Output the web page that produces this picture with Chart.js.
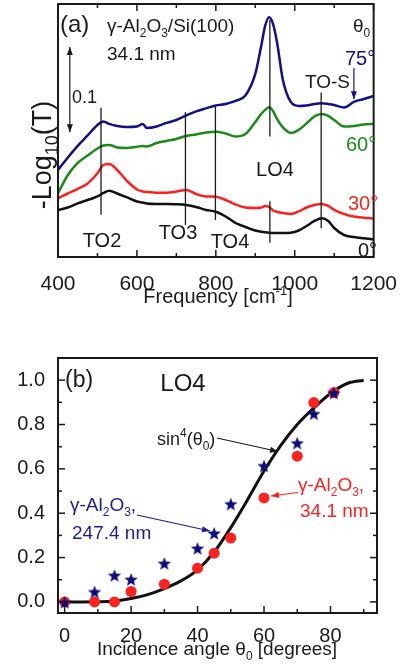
<!DOCTYPE html>
<html>
<head>
<meta charset="utf-8">
<script src="https://cdn.jsdelivr.net/npm/chart.js@4.4.1/dist/chart.umd.min.js"></script>
<style>
  html, body { margin: 0; padding: 0; background: #fff; }
  #wrap { position: relative; width: 404px; height: 666px; }
  canvas { position: absolute; left: 0; }
  #ca { top: 0; }
  #cb { top: 330px; }
</style>
</head>
<body>
<div id="wrap">
  <canvas id="ca" width="404" height="315"></canvas>
  <canvas id="cb" width="404" height="336"></canvas>
</div>
<script>
const FONT = '"Liberation Sans", Arial, sans-serif';
const INK = '#1a1a1a';

// ---- panel (a): spectra, -log10(T) vs frequency [cm-1]
const freq = [400, 425, 450, 475, 500, 515, 530, 550, 575, 600, 615, 625, 650, 675, 700, 725, 750, 775, 800, 825,
              850, 875, 900, 915, 925, 935, 945, 955, 970, 990, 1010, 1030, 1050, 1068, 1085, 1100, 1125, 1150, 1175, 1200];
const abs0 = [0.0558, 0.0587, 0.0635, 0.0676, 0.0718, 0.0759, 0.0786, 0.0753, 0.0706, 0.0658, 0.0646, 0.0635, 0.0629, 0.0629,
              0.0626, 0.0617, 0.0593, 0.0558, 0.0537, 0.0480, 0.0403, 0.0356, 0.0314, 0.0300, 0.0293, 0.0288, 0.0285, 0.0285,
              0.0285, 0.0288, 0.0314, 0.0368, 0.0427, 0.0459, 0.0427, 0.0344, 0.0261, 0.0237, 0.0222, 0.0208];
const abs30 = [0.0696, 0.0753, 0.0807, 0.0872, 0.0993, 0.1091, 0.1103, 0.1032, 0.0902, 0.0801, 0.0777, 0.0771, 0.0763, 0.0763,
               0.0777, 0.0795, 0.0747, 0.0718, 0.0715, 0.0676, 0.0623, 0.0587, 0.0581, 0.0587, 0.0605, 0.0593, 0.0552, 0.0537,
               0.0522, 0.0510, 0.0540, 0.0587, 0.0617, 0.0629, 0.0605, 0.0558, 0.0510, 0.0480, 0.0466, 0.0457];
const abs60 = [0.0756, 0.0973, 0.1115, 0.1204, 0.1287, 0.1323, 0.1329, 0.1299, 0.1293, 0.1308, 0.1317, 0.1311, 0.1352, 0.1376,
               0.1400, 0.1435, 0.1453, 0.1477, 0.1486, 0.1465, 0.1429, 0.1459, 0.1601, 0.1696, 0.1744, 0.1776, 0.1732, 0.1637,
               0.1536, 0.1471, 0.1507, 0.1584, 0.1667, 0.1696, 0.1673, 0.1625, 0.1548, 0.1554, 0.1572, 0.1578];
const abs75 = [0.1032, 0.1180, 0.1317, 0.1441, 0.1566, 0.1607, 0.1578, 0.1554, 0.1542, 0.1548, 0.1578, 0.1530, 0.1548, 0.1590,
               0.1625, 0.1679, 0.1726, 0.1762, 0.1797, 0.1815, 0.1851, 0.1916, 0.2171, 0.2503, 0.2740, 0.2843, 0.2764, 0.2550,
               0.2100, 0.1839, 0.1791, 0.1797, 0.1815, 0.1823, 0.1815, 0.1803, 0.1773, 0.1839, 0.1874, 0.1910];
// vertical mode markers TO2, TO3, TO4, LO4 (upper), LO4 (lower), TO-S
const markerFreq = [509, 723, 799, 937, 937, 1067];
const markerTop = [0.177, 0.172, 0.178, 0.281, 0.066, 0.195];
const markerBottom = [0.050, 0.038, 0.044, 0.143, 0.017, 0.034];
const freqTicks = [400, 600, 800, 1000, 1200];

// ---- panel (b): LO4 intensity vs incidence angle
const angle = [0, 9, 15, 20, 30, 40, 45, 50, 60, 70, 75, 81];
const lo4Thick = [0, 0.047, 0.121, 0.103, 0.175, 0.243, 0.311, 0.443, 0.615, 0.718, 0.85, 0.944];  // 247.4 nm, stars
const lo4Thin = [0, 0, 0, 0.047, 0.08, 0.152, 0.22, 0.288, 0.469, 0.657, 0.899, 0.944];           // 34.1 nm, circles
const fitAngle = [0, 10, 15, 20, 25, 30, 35, 40, 45, 50, 55, 60, 65, 70, 75, 80, 85, 90];
const fitVal = [0, 0.001, 0.004, 0.015, 0.033, 0.06, 0.095, 0.145, 0.225, 0.335, 0.46, 0.59, 0.705, 0.8, 0.875, 0.94, 0.985, 1.0];
const angleTicks = [0, 20, 40, 60, 80];
const ratioTicks = [0, 0.2, 0.4, 0.6, 0.8, 1.0];

const C_BLUE = '#10108c';
const C_GREEN = '#1b8a1b';
const C_RED = '#ff1f1f';
const C_STAR = '#0c0c7a';

// text with sub/superscripts; y is the baseline
function rich(ctx, x, y, parts, size, color, align) {
  ctx.save();
  ctx.fillStyle = color;
  ctx.textBaseline = 'alphabetic';
  const fs = k => (k === 'n' ? size : Math.round(size * 0.65));
  let w = 0;
  parts.forEach(([t, k]) => { ctx.font = fs(k) + 'px ' + FONT; w += ctx.measureText(t).width; });
  let cx = align === 'center' ? x - w / 2 : x;
  parts.forEach(([t, k]) => {
    ctx.font = fs(k) + 'px ' + FONT;
    const dy = k === 'sub' ? size * 0.25 : k === 'sup' ? -size * 0.42 : 0;
    ctx.fillText(t, cx, y + dy);
    cx += ctx.measureText(t).width;
  });
  ctx.restore();
}

function arrow(ctx, x1, y1, x2, y2, color, both) {
  ctx.save();
  ctx.strokeStyle = color; ctx.fillStyle = color; ctx.lineWidth = 1.2;
  ctx.beginPath(); ctx.moveTo(x1, y1); ctx.lineTo(x2, y2); ctx.stroke();
  const head = (xa, ya, xb, yb) => {
    const a = Math.atan2(yb - ya, xb - xa);
    ctx.beginPath();
    ctx.moveTo(xb, yb);
    ctx.lineTo(xb - 8 * Math.cos(a) + 3 * Math.sin(a), yb - 8 * Math.sin(a) - 3 * Math.cos(a));
    ctx.lineTo(xb - 8 * Math.cos(a) - 3 * Math.sin(a), yb - 8 * Math.sin(a) + 3 * Math.cos(a));
    ctx.closePath(); ctx.fill();
  };
  head(x1, y1, x2, y2);
  if (both) head(x2, y2, x1, y1);
  ctx.restore();
}

function starImage(r, color) {
  const s = Math.ceil(r * 2 + 2);
  const c = document.createElement('canvas');
  c.width = s; c.height = s;
  const g = c.getContext('2d');
  g.fillStyle = color;
  g.beginPath();
  for (let i = 0; i < 10; i++) {
    const rr = i % 2 ? r * 0.42 : r;
    const a = -Math.PI / 2 + i * Math.PI / 5;
    const px = s / 2 + rr * Math.cos(a), py = s / 2 + 1 + rr * Math.sin(a);
    if (i) g.lineTo(px, py); else g.moveTo(px, py);
  }
  g.closePath(); g.fill();
  return c;
}

function frame(ctx, a) {
  ctx.save();
  ctx.strokeStyle = INK; ctx.lineWidth = 2;
  ctx.strokeRect(a.left, a.top, a.right - a.left, a.bottom - a.top);
  ctx.restore();
}

function tickMark(ctx, x1, y1, x2, y2) {
  ctx.beginPath(); ctx.moveTo(x1, y1); ctx.lineTo(x2, y2); ctx.stroke();
}

const pts = (xs, ys) => xs.map((v, i) => ({ x: v, y: ys[i] }));

// ---------------- chart (a)
const decorA = {
  id: 'decorA',
  afterDraw(chart) {
    const { ctx, chartArea: a, scales: { x, y } } = chart;
    frame(ctx, a);
    ctx.save();
    ctx.strokeStyle = INK; ctx.lineWidth = 1.5;
    for (let f = 400; f <= 1200; f += 100) {
      const px = x.getPixelForValue(f);
      const len = f % 200 === 0 ? 7 : 4;
      tickMark(ctx, px, a.bottom, px, a.bottom - len);
      tickMark(ctx, px, a.top, px, a.top + len);
    }
    ctx.restore();

    // scale bar for 0.1
    const sx = x.getPixelForValue(430);
    arrow(ctx, sx, y.getPixelForValue(0.148), sx, y.getPixelForValue(0.249), INK, true);
    rich(ctx, 72, 103, [['0.1', 'n']], 18, INK);

    rich(ctx, 60, 32, [['(a)', 'n']], 24, INK);
    rich(ctx, 107, 32, [['\u03b3-Al', 'n'], ['2', 'sub'], ['O', 'n'], ['3', 'sub'], ['/Si(100)', 'n']], 19, INK);
    rich(ctx, 107, 60, [['34.1 nm', 'n']], 19, INK);
    rich(ctx, 353, 32, [['\u03b8', 'n'], ['0', 'sub']], 19, INK);
    rich(ctx, 345, 65, [['75\u00b0', 'n']], 20, C_BLUE);
    const ax = x.getPixelForValue(1150);
    arrow(ctx, ax, y.getPixelForValue(0.224), ax, y.getPixelForValue(0.187), C_BLUE);
    rich(ctx, 305, 88, [['TO-S', 'n']], 19, INK);
    rich(ctx, 346, 151, [['60\u00b0', 'n']], 20, C_GREEN);
    rich(ctx, 275, 176, [['LO4', 'n']], 20, INK, 'center');
    rich(ctx, 348, 210, [['30\u00b0', 'n']], 20, C_RED);
    rich(ctx, 102, 247, [['TO2', 'n']], 20, INK, 'center');
    rich(ctx, 178, 239, [['TO3', 'n']], 20, INK, 'center');
    rich(ctx, 230, 248, [['TO4', 'n']], 20, INK, 'center');
    rich(ctx, 358, 257, [['0\u00b0', 'n']], 20, INK);

    rich(ctx, 218, 303, [['Frequency [cm', 'n'], ['-1', 'sup'], [']', 'n']], 20, INK, 'center');

    ctx.save();
    ctx.translate(51, 155);
    ctx.rotate(-Math.PI / 2);
    rich(ctx, 0, 0, [['-Log', 'n'], ['10', 'sub'], ['(T)', 'n']], 27, INK, 'center');
    ctx.restore();
  }
};

const spectrum = (vals, color) => ({
  data: pts(freq, vals), borderColor: color, borderWidth: 2.5,
  pointRadius: 0, cubicInterpolationMode: 'monotone', fill: false
});

new Chart(document.getElementById('ca'), {
  type: 'line',
  data: {
    datasets: [
      ...markerFreq.map((f, i) => ({
        data: [{ x: f, y: markerTop[i] }, { x: f, y: markerBottom[i] }],
        borderColor: INK, borderWidth: 1.3, pointRadius: 0
      })),
      spectrum(abs75, C_BLUE),
      spectrum(abs60, C_GREEN),
      spectrum(abs30, C_RED),
      spectrum(abs0, '#111111')
    ]
  },
  options: {
    responsive: false, animation: false, devicePixelRatio: 1,
    layout: { padding: { left: 58, right: 24.6, top: 4, bottom: 0 } },
    plugins: { legend: { display: false }, tooltip: { enabled: false } },
    scales: {
      x: {
        type: 'linear', min: 400, max: 1200,
        grid: { display: false }, border: { display: false },
        afterBuildTicks: s => { s.ticks = freqTicks.map(v => ({ value: v })); },
        ticks: { font: { family: FONT, size: 21 }, color: INK, padding: 7, maxRotation: 0, callback: v => String(v) },
        afterFit: s => { s.height = 58; }
      },
      y: { display: false, min: 0, max: 0.3 }
    }
  },
  plugins: [decorA]
});

// ---------------- chart (b)
const decorB = {
  id: 'decorB',
  afterDraw(chart) {
    const { ctx, chartArea: a, scales: { x, y } } = chart;
    frame(ctx, a);
    ctx.save();
    ctx.strokeStyle = INK; ctx.lineWidth = 1.5;
    for (let k = 0; k <= 10; k++) {
      const py = y.getPixelForValue(k / 10);
      const len = k % 2 === 0 ? 7 : 4;
      tickMark(ctx, a.left, py, a.left + len, py);
      tickMark(ctx, a.right, py, a.right - len, py);
    }
    for (let d = 0; d <= 90; d += 10) {
      const px = x.getPixelForValue(d);
      tickMark(ctx, px, a.bottom, px, a.bottom - (d % 20 === 0 ? 7 : 4));
    }
    ctx.restore();

    const o = 330; // canvas offset in page
    rich(ctx, 65, 387 - o, [['(b)', 'n']], 23, INK);
    rich(ctx, 183, 391 - o, [['LO4', 'n']], 24, INK, 'center');
    rich(ctx, 157, 445 - o, [['sin', 'n'], ['4', 'sup'], ['(\u03b8', 'n'], ['0', 'sub'], [')', 'n']], 18, INK);
    arrow(ctx, 217, 438 - o, 278, 451.5 - o, INK);
    rich(ctx, 70, 511 - o, [['\u03b3-Al', 'n'], ['2', 'sub'], ['O', 'n'], ['3', 'sub'], [',', 'n']], 19, '#1c1c9a');
    rich(ctx, 72, 539 - o, [['247.4 nm', 'n']], 19, '#1c1c9a');
    arrow(ctx, 137, 515 - o, 210, 531 - o, '#1c1c9a');
    rich(ctx, 298, 491 - o, [['\u03b3-Al', 'n'], ['2', 'sub'], ['O', 'n'], ['3', 'sub'], [',', 'n']], 19, C_RED);
    rich(ctx, 300, 517 - o, [['34.1 nm', 'n']], 19, C_RED);
    arrow(ctx, 298, 492.5 - o, 271, 496 - o, C_RED);

    rich(ctx, 217, 655 - o, [['Incidence angle \u03b8', 'n'], ['0', 'sub'], [' [degrees]', 'n']], 19, INK, 'center');
  }
};

new Chart(document.getElementById('cb'), {
  type: 'scatter',
  data: {
    datasets: [
      { data: pts(angle, lo4Thick), pointStyle: starImage(7, C_STAR), pointRadius: 7 },
      { data: pts(angle, lo4Thin), pointStyle: 'circle', pointRadius: 5.5, backgroundColor: '#ff2020', borderWidth: 0 },
      { data: pts(fitAngle, fitVal), showLine: true, borderColor: '#111111', borderWidth: 3,
        pointRadius: 0, cubicInterpolationMode: 'monotone' }
    ]
  },
  options: {
    responsive: false, animation: false, devicePixelRatio: 1,
    layout: { padding: { left: 0, right: 27, top: 28, bottom: 0 } },
    plugins: { legend: { display: false }, tooltip: { enabled: false } },
    scales: {
      x: {
        type: 'linear', min: -2, max: 94,
        grid: { display: false }, border: { display: false },
        afterBuildTicks: s => { s.ticks = angleTicks.map(v => ({ value: v })); },
        ticks: { font: { family: FONT, size: 20 }, color: INK, padding: 3, maxRotation: 0, callback: v => String(v) },
        afterFit: s => { s.height = 53; }
      },
      y: {
        type: 'linear', min: -0.05, max: 1.1,
        grid: { display: false }, border: { display: false },
        afterBuildTicks: s => { s.ticks = ratioTicks.map(v => ({ value: v })); },
        ticks: { font: { family: FONT, size: 20 }, color: INK, padding: 5, callback: v => v.toFixed(1) },
        afterFit: s => { s.width = 58; }
      }
    }
  },
  plugins: [decorB]
});
</script>
</body>
</html>
